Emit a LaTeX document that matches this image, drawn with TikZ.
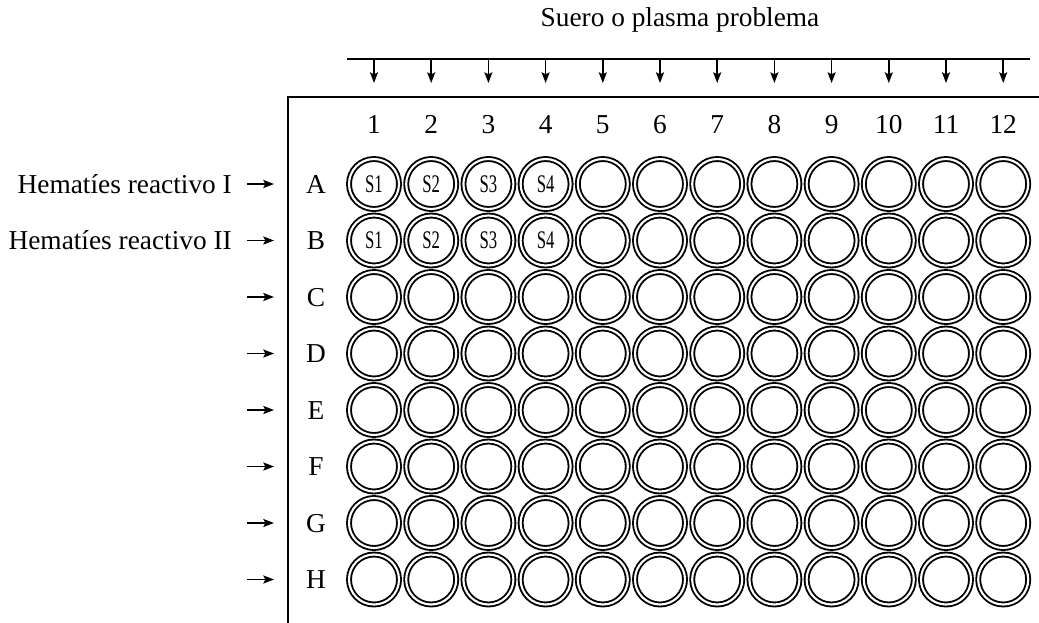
\documentclass[tikz,border=0pt]{standalone}
\usepackage{fontspec}
\setmainfont{Liberation Serif}
\usetikzlibrary{arrows.meta}

\begin{document}
\begin{tikzpicture}[x=0.75pt,y=0.75pt,yscale=-1,
  well/.style={circle,draw,line width=1.4pt,double=white,double distance=1.6pt,minimum size=37.5pt,inner sep=0pt},
  lbl/.style={font=\fontsize{20.5}{24}\selectfont,inner sep=0.75pt},
  sid/.style={font=\fontsize{19}{22}\selectfont,inner sep=0pt},
  feed/.style={line width=1.2pt,-{Stealth[length=8pt,width=6pt,inset=1.5pt]}}]

\useasboundingbox (0,0) rectangle (1039,622);

% Text Node
\node[lbl] (title) at (680,20) {Suero o plasma problema};

%Straight Lines
\draw [line width=1.4pt] (347,59) -- (1030,59) ;
%Straight Lines (plate border)
\draw [line width=1.5pt] (288,630) -- (288,97) -- (1045,97) ;

% column numbers and feed arrows
\foreach \c [count=\j from 0] in {1,...,12} {
  \coordinate (t-\c) at (374+57.2*\j,59);
  \coordinate (h-\c) at (374+57.2*\j,83);
  \draw [feed] (t-\c) -- (h-\c);
  \node[lbl,anchor=base] (n-\c) at (374+57.2*\j,133) {\c};
}

% Text Node
\node[lbl,anchor=base east] (hem-1) at (233,193) {Hematíes reactivo I};
% Text Node
\node[lbl,anchor=base east] (hem-2) at (233,249.5) {Hematíes reactivo II};

% rows of wells
\foreach \r [count=\i from 0] in {A,B,C,D,E,F,G,H} {
  \coordinate (a-\r) at (247,184+56.5*\i);
  \coordinate (b-\r) at (274,184+56.5*\i);
  \draw [feed] (a-\r) -- (b-\r);
  \node[lbl,anchor=base] (r-\r) at (316,193+56.5*\i) {\r};
  \foreach \c [count=\j from 0] in {1,...,12}
    \node[well] (w-\r\c) at (374+57.2*\j,184+56.5*\i) {};
}

% sample labels
\foreach \r in {A,B}
  \foreach \c in {1,...,4}
    \node[sid] (s-\r\c) at (w-\r\c) {\scalebox{0.66}[1]{S\c}};

\end{tikzpicture}
\end{document}
